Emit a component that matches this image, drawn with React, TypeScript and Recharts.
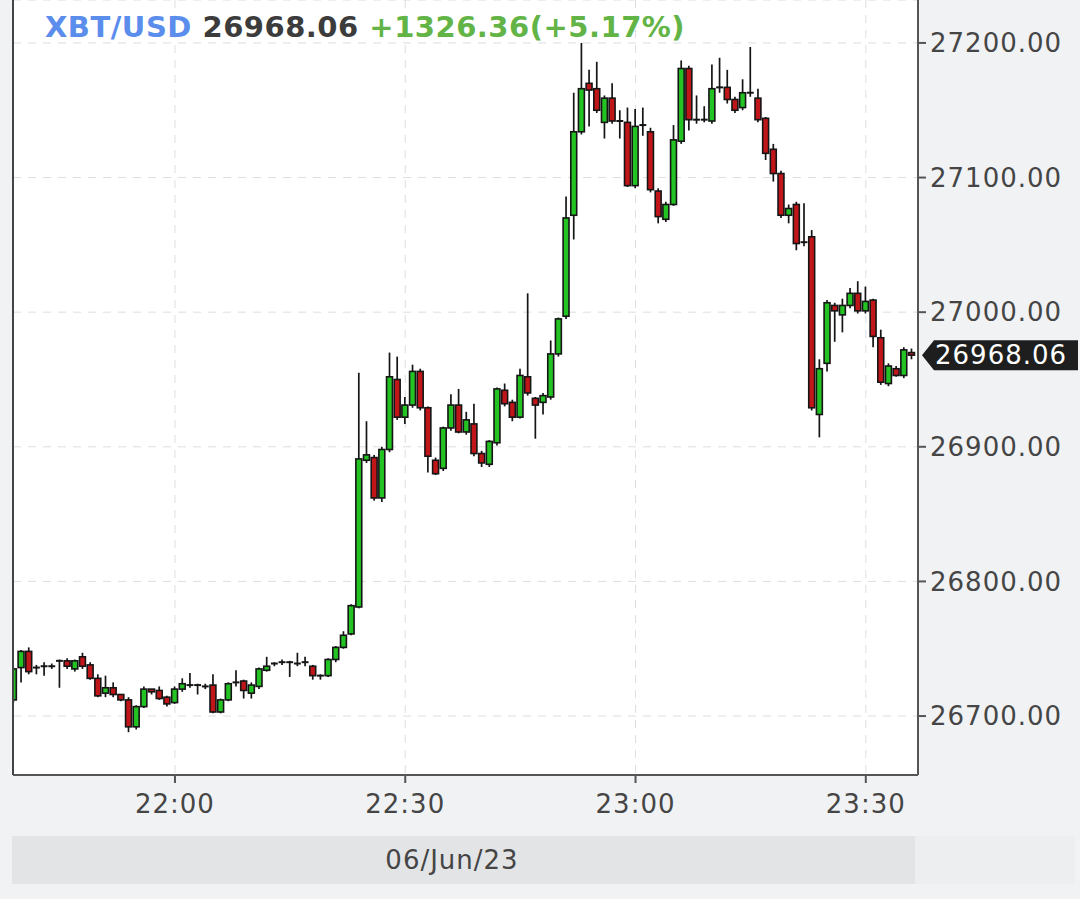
import React from 'react';
import { ComposedChart, Bar, XAxis, YAxis, CartesianGrid, ReferenceLine } from 'recharts';

// 1-minute candles, 06/Jun/23
const times = [
  '21:39', '21:40', '21:41', '21:42', '21:43', '21:44', '21:45', '21:46', '21:47', '21:48',
  '21:49', '21:50', '21:51', '21:52', '21:53', '21:54', '21:55', '21:56', '21:57', '21:58',
  '21:59', '22:00', '22:01', '22:02', '22:03', '22:04', '22:05', '22:06', '22:07', '22:08',
  '22:09', '22:10', '22:11', '22:12', '22:13', '22:14', '22:15', '22:16', '22:17', '22:18',
  '22:19', '22:20', '22:21', '22:22', '22:23', '22:24', '22:25', '22:26', '22:27', '22:28',
  '22:29', '22:30', '22:31', '22:32', '22:33', '22:34', '22:35', '22:36', '22:37', '22:38',
  '22:39', '22:40', '22:41', '22:42', '22:43', '22:44', '22:45', '22:46', '22:47', '22:48',
  '22:49', '22:50', '22:51', '22:52', '22:53', '22:54', '22:55', '22:56', '22:57', '22:58',
  '22:59', '23:00', '23:01', '23:02', '23:03', '23:04', '23:05', '23:06', '23:07', '23:08',
  '23:09', '23:10', '23:11', '23:12', '23:13', '23:14', '23:15', '23:16', '23:17', '23:18',
  '23:19', '23:20', '23:21', '23:22', '23:23', '23:24', '23:25', '23:26', '23:27', '23:28',
  '23:29', '23:30', '23:31', '23:32', '23:33', '23:34', '23:35', '23:36',
];

const opens = [
  26712, 26736, 26748, 26735, 26736, 26737, 26740, 26741, 26735, 26744,
  26738, 26728, 26717, 26721, 26716, 26712, 26692, 26707, 26720, 26719,
  26714, 26710, 26720, 26723, 26723, 26722, 26723, 26703, 26712, 26724,
  26726, 26717, 26722, 26734, 26738, 26739, 26740, 26739, 26740, 26737,
  26730, 26730, 26742, 26751, 26761, 26781, 26890, 26892, 26862, 26898,
  26950, 26922, 26931, 26956, 26929, 26890, 26884, 26914, 26931, 26911,
  26917, 26895, 26887, 26903, 26942, 26933, 26922, 26952, 26936, 26933,
  26937, 26969, 26997, 27072, 27134, 27170, 27166, 27141, 27159, 27142,
  27141, 27094, 27138, 27134, 27090, 27069, 27080, 27127, 27181, 27143,
  27142, 27142, 27166, 27167, 27158, 27152, 27163, 27159, 27144, 27121,
  27103, 27072, 27080, 27051, 27056, 26924, 26962, 27005, 26998, 27005,
  27014, 27001, 27009, 26981, 26947, 26958, 26953, 26970,
];

const highs = [
  26736, 26749, 26751, 26738, 26740, 26739, 26742, 26743, 26742, 26747,
  26740, 26731, 26730, 26725, 26716, 26714, 26708, 26722, 26720, 26722,
  26715, 26722, 26728, 26732, 26724, 26724, 26731, 26713, 26725, 26734,
  26727, 26725, 26736, 26744, 26740, 26742, 26741, 26747, 26744, 26738,
  26731, 26743, 26752, 26763, 26783, 26955, 26919, 26894, 26900, 26970,
  26967, 26937, 26961, 26958, 26930, 26892, 26915, 26939, 26943, 26926,
  26932, 26897, 26905, 26944, 26947, 26935, 26958, 27014, 26937, 26940,
  26979, 26996, 27086, 27163, 27200, 27180, 27186, 27161, 27170, 27150,
  27152, 27151, 27152, 27137, 27092, 27082, 27139, 27187, 27183, 27161,
  27153, 27184, 27189, 27180, 27160, 27173, 27197, 27166, 27145, 27125,
  27105, 27080, 27082, 27081, 27061, 26965, 27009, 27007, 27010, 27018,
  27023, 27019, 27010, 26987, 26962, 26960, 26974, 26973,
];

const lows = [
  26710, 26725, 26731, 26731, 26730, 26735, 26721, 26735, 26733, 26735,
  26727, 26714, 26714, 26714, 26711, 26688, 26690, 26706, 26716, 26712,
  26707, 26709, 26718, 26721, 26716, 26720, 26702, 26702, 26711, 26722,
  26713, 26713, 26720, 26733, 26737, 26738, 26729, 26737, 26737, 26727,
  26727, 26729, 26740, 26750, 26760, 26780, 26888, 26860, 26859, 26896,
  26920, 26917, 26929, 26927, 26881, 26879, 26882, 26912, 26910, 26909,
  26893, 26885, 26885, 26901, 26930, 26919, 26921, 26938, 26906, 26924,
  26935, 26967, 26995, 27054, 27132, 27138, 27148, 27129, 27140, 27129,
  27093, 27092, 27131, 27089, 27066, 27067, 27079, 27125, 27135, 27140,
  27141, 27140, 27163, 27155, 27148, 27150, 27160, 27141, 27113, 27097,
  27070, 27066, 27046, 27049, 26927, 26907, 26956, 26978, 26985, 27003,
  26999, 26999, 26974, 26946, 26945, 26952, 26951, 26965,
];

const closes = [
  26735, 26748, 26733, 26736, 26737, 26737, 26741, 26737, 26741, 26737,
  26728, 26715, 26721, 26716, 26712, 26692, 26707, 26720, 26718, 26713,
  26709, 26720, 26724, 26723, 26722, 26722, 26703, 26712, 26724, 26725,
  26719, 26723, 26735, 26737, 26739, 26740, 26739, 26739, 26739, 26730,
  26730, 26742, 26751, 26760, 26782, 26891, 26894, 26862, 26898, 26952,
  26922, 26931, 26956, 26929, 26893, 26880, 26914, 26931, 26911, 26920,
  26895, 26888, 26904, 26943, 26932, 26922, 26953, 26940, 26931, 26938,
  26969, 26995, 27070, 27134, 27166, 27165, 27150, 27159, 27142, 27141,
  27094, 27138, 27139, 27091, 27071, 27080, 27128, 27181, 27143, 27142,
  27143, 27166, 27167, 27158, 27150, 27163, 27162, 27143, 27118, 27103,
  27072, 27077, 27051, 27052, 26929, 26958, 27007, 27001, 27005, 27014,
  27001, 27008, 26982, 26948, 26960, 26953, 26972, 26968.06,
];

const xTickLabels = ['22:00', '22:30', '23:00', '23:30'];
const yTicks = [26700, 26800, 26900, 27000, 27100, 27200];

const symbol = 'XBT/USD';
const lastPrice = 26968.06;
const changeText = '+1326.36(+5.17%)';
const dateLabel = '06/Jun/23';

const GREEN = '#22c322';
const RED = '#c0161a';
const INK = '#151515';
const LABEL_FONT = 'DejaVu Sans, Verdana, sans-serif';

const toMin = (s: string) => {
  const [h, m] = s.split(':').map(Number);
  return h * 60 + m;
};
const fmtMin = (m: number) => `${Math.floor(m / 60)}:${String(m % 60).padStart(2, '0')}`;

const data = times.map((t, i) => ({
  t: toMin(t),
  open: opens[i],
  high: highs[i],
  low: lows[i],
  close: closes[i],
  range: [lows[i], highs[i]],
}));

const xTicks = xTickLabels.map(toMin);

const Candle = (props: any) => {
  const { x, y, width, height, payload } = props;
  if (!payload || x == null || y == null) return null;
  const { open, close, high, low } = payload;
  const span = high - low;
  const k = span > 0 ? height / span : 0;
  const cx = x + width / 2;
  const yO = y + (high - open) * k;
  const yC = y + (high - close) * k;
  const top = Math.min(yO, yC);
  const h = Math.abs(yO - yC);
  const up = close >= open;
  return (
    <g>
      <line x1={cx} x2={cx} y1={y} y2={y + height} stroke={INK} strokeWidth={1.7} />
      {h < 1.5 ? (
        <line x1={x} x2={x + width} y1={top} y2={top} stroke={INK} strokeWidth={2} />
      ) : (
        <rect
          x={x + 0.5}
          y={top}
          width={width - 1}
          height={h}
          fill={up ? GREEN : RED}
          stroke={INK}
          strokeWidth={1.6}
        />
      )}
    </g>
  );
};

const PriceTag = (props: any) => {
  const vb = props.viewBox || {};
  const x0 = (vb.x || 0) + (vb.width || 0);
  const y0 = vb.y || 0;
  return (
    <g>
      <polygon
        points={`${x0 + 4},${y0} ${x0 + 16},${y0 - 15} ${x0 + 160},${y0 - 15} ${x0 + 160},${y0 + 15} ${x0 + 16},${y0 + 15}`}
        fill="#1e1e1e"
      />
      <text
        x={x0 + 17}
        y={y0}
        dominantBaseline="central"
        fill="#fff"
        fontSize={26}
        fontFamily={LABEL_FONT}
        letterSpacing={1}
      >
        {lastPrice.toFixed(2)}
      </text>
    </g>
  );
};

const tickStyle = { fontSize: 26, fill: '#454545', fontFamily: LABEL_FONT, letterSpacing: 1 };

export default function App() {
  return (
    <div
      style={{
        position: 'absolute',
        left: 0,
        top: 0,
        width: 1080,
        height: 899,
        background: '#f1f2f4',
        overflow: 'hidden',
      }}
    >
      <ComposedChart width={1080} height={899} data={data} margin={{ top: 0, right: 0, bottom: 0, left: 0 }}>
        <CartesianGrid yAxisId="r" strokeDasharray="8 7" stroke="#dedede" fill="#ffffff" />
        <XAxis
          dataKey="t"
          type="number"
          domain={[1298.9, 1416.8]}
          ticks={xTicks}
          tickFormatter={fmtMin}
          allowDataOverflow
          height={124}
          tickSize={8}
          tickMargin={12}
          tick={tickStyle}
          axisLine={{ stroke: '#555', strokeWidth: 2 }}
          tickLine={{ stroke: '#555', strokeWidth: 2 }}
        />
        <YAxis
          yAxisId="l"
          orientation="left"
          width={13}
          type="number"
          domain={[26656.2, 27231.9]}
          tick={false}
          tickLine={false}
          axisLine={{ stroke: '#444', strokeWidth: 2 }}
        />
        <YAxis
          yAxisId="r"
          orientation="right"
          width={162}
          type="number"
          domain={[26656.2, 27231.9]}
          allowDataOverflow
          ticks={yTicks}
          tickFormatter={(v: number) => v.toFixed(2)}
          tick={tickStyle}
          tickSize={8}
          tickMargin={4}
          axisLine={{ stroke: '#555', strokeWidth: 2 }}
          tickLine={{ stroke: '#555', strokeWidth: 2 }}
        />
        <Bar yAxisId="r" dataKey="range" barSize={8} shape={<Candle />} isAnimationActive={false} />
        <ReferenceLine yAxisId="r" y={lastPrice} stroke="none" label={<PriceTag />} />
      </ComposedChart>

      <div
        style={{
          position: 'absolute',
          left: 45,
          top: 10,
          fontFamily: LABEL_FONT,
          fontWeight: 'bold',
          fontSize: 29,
          letterSpacing: 0.5,
          whiteSpace: 'nowrap',
          lineHeight: 'normal',
        }}
      >
        <span style={{ color: '#5b8ded' }}>{symbol}</span>{' '}
        <span style={{ color: '#3c3c3c' }}>{lastPrice.toFixed(2)}</span>{' '}
        <span style={{ color: '#63b446' }}>{changeText}</span>
      </div>

      <div
        style={{
          position: 'absolute',
          left: 915,
          top: 836,
          width: 160,
          height: 48,
          background: '#eceef0',
        }}
      />
      <div
        style={{
          position: 'absolute',
          left: 12,
          top: 836,
          width: 903,
          height: 48,
          background: '#e3e4e6',
        }}
      />
      <div
        style={{
          position: 'absolute',
          left: 352,
          top: 836,
          width: 200,
          height: 48,
          lineHeight: '48px',
          textAlign: 'center',
          fontFamily: LABEL_FONT,
          fontSize: 26,
          letterSpacing: 1,
          color: '#454545',
        }}
      >
        {dateLabel}
      </div>
    </div>
  );
}
